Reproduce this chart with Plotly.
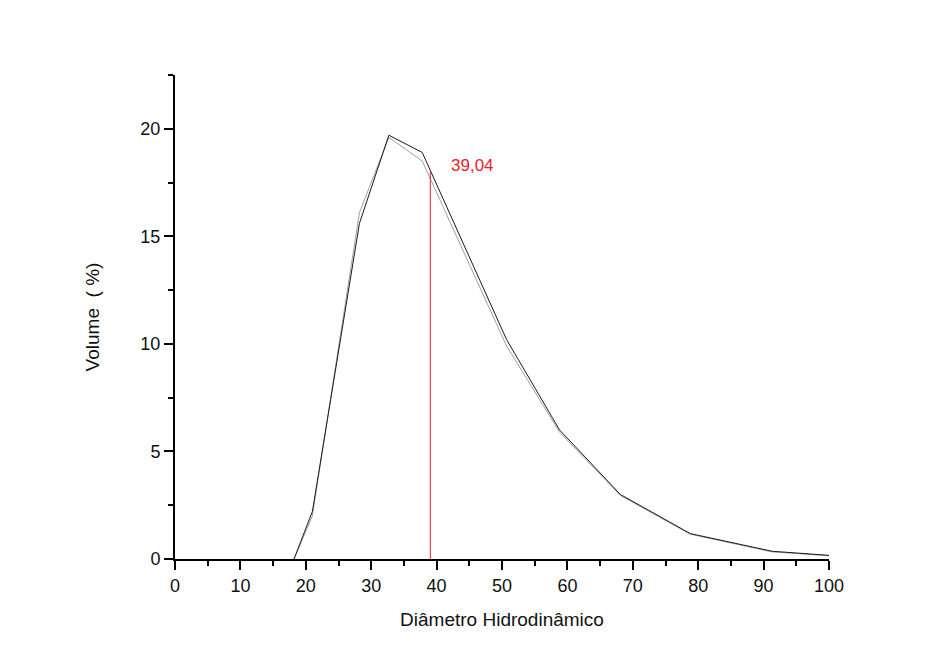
import plotly.graph_objects as go

# diameter bins and volume (%) for the two measurements
diam_a = [18.2, 21.0, 28.2, 32.7, 37.8, 50.7, 58.8, 68.1, 78.8, 91.3, 100.0]
vol_a = [0.0, 2.2, 15.6, 19.7, 18.9, 10.2, 6.0, 3.0, 1.18, 0.36, 0.17]

diam_b = [18.2, 21.0, 28.2, 32.7, 37.8, 50.7, 58.8, 68.1, 78.8, 91.3, 100.0]
vol_b = [0.0, 2.0, 16.1, 19.6, 18.5, 9.9, 5.9, 2.95, 1.15, 0.33, 0.15]

marker_x = 39.04
marker_y = 18.05
marker_label = "39,04"

FONT = "Liberation Sans, Arial, sans-serif"
RED = "#e8222b"

fig = go.Figure()

fig.add_trace(go.Scatter(x=diam_b, y=vol_b, mode="lines",
                         line=dict(color="#a0a0a0", width=1), showlegend=False))
fig.add_trace(go.Scatter(x=diam_a, y=vol_a, mode="lines",
                         line=dict(color="#1a1a1a", width=1), showlegend=False))

# vertical marker at the mean diameter
fig.add_shape(type="line", x0=marker_x, x1=marker_x, y0=0, y1=marker_y,
              xref="x", yref="y", line=dict(color=RED, width=1))
fig.add_annotation(x=41.9, y=18.3, text=marker_label, showarrow=False,
                   xanchor="left", yanchor="middle",
                   font=dict(family=FONT, size=17, color=RED))

# page body has an 8px margin, so the figure is a bit smaller than the window
fig.update_layout(
    width=940, height=657,
    margin=dict(l=167, r=119, t=67, b=106),
    paper_bgcolor="white", plot_bgcolor="white",
    font=dict(family=FONT, size=18, color="#111"),
    showlegend=False,
)

fig.update_xaxes(
    range=[0, 100], dtick=10, tick0=0,
    showline=True, linecolor="black", linewidth=2,
    ticks="outside", ticklen=9, tickwidth=1.5, tickcolor="black",
    minor=dict(dtick=5, ticks="outside", ticklen=5, tickwidth=1.5, tickcolor="black"),
    showgrid=False, zeroline=False,
    title=dict(text="Diâmetro Hidrodinâmico", font=dict(family=FONT, size=19, color="#111"), standoff=18),
    tickfont=dict(size=18),
)
fig.update_yaxes(
    range=[0, 22.5], dtick=5, tick0=0,
    showline=True, linecolor="black", linewidth=2,
    ticks="outside", ticklen=9, tickwidth=1.5, tickcolor="black",
    minor=dict(dtick=2.5, ticks="outside", ticklen=5, tickwidth=1.5, tickcolor="black"),
    showgrid=False, zeroline=False,
    title=dict(text="Volume  ( %)", font=dict(family=FONT, size=19, color="#111"), standoff=36),
    tickfont=dict(size=18),
)

fig.write_html("out.html")
